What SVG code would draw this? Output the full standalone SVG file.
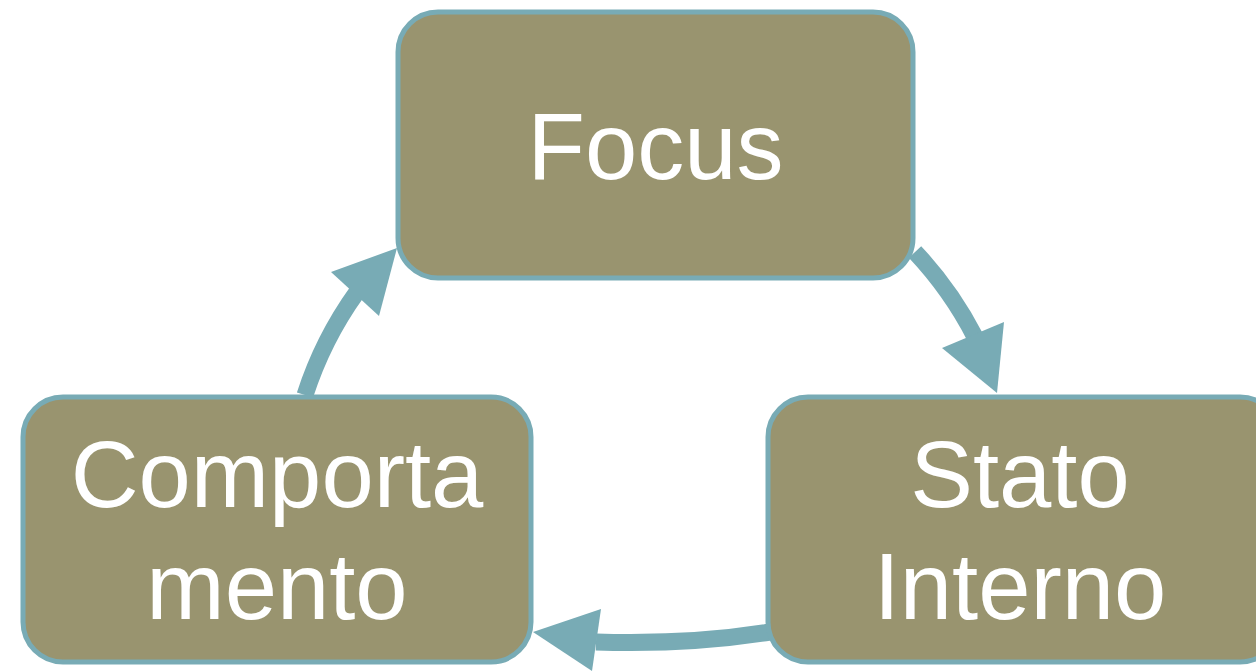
<svg xmlns="http://www.w3.org/2000/svg" width="1256" height="671" viewBox="0 0 1256 671">
<style>
.box{fill:#99946F;stroke:#78ABB5;stroke-width:5}
.lbl{font-family:"Liberation Sans",Arial,sans-serif;font-size:94px;fill:#FFFFFF;text-anchor:middle}
.shaft{fill:none;stroke:#78ABB5;stroke-width:17}
.head{fill:#78ABB5}
</style>
<rect width="1256" height="671" fill="#FFFFFF"/>
<g id="connectors">
<path class="shaft" d="M 915 252 A 372 372 0 0 1 975 337"/>
<polygon class="head" points="1004,322 997,393 942,348"/>
<path class="shaft" d="M 770 632 Q 690 645 596 642"/>
<polygon class="head" points="601,609 533,632 592,671"/>
<path class="shaft" d="M 305 395 A 372 372 0 0 1 357 292"/>
<polygon class="head" points="331,272 397,248 379,316"/>
</g>
<g id="focus">
<rect class="box" x="398" y="12" width="515" height="266" rx="40" ry="40"/>
<text class="lbl" x="655.5" y="179">Focus</text>
</g>
<g id="stato-interno">
<rect class="box" x="768" y="397" width="512" height="265" rx="40" ry="40"/>
<text class="lbl" x="1020" y="507">Stato</text>
<text class="lbl" x="1020" y="619">Interno</text>
</g>
<g id="comportamento">
<rect class="box" x="23" y="397" width="508" height="265" rx="40" ry="40"/>
<text class="lbl" x="277" y="507">Comporta</text>
<text class="lbl" x="277" y="619">mento</text>
</g>
</svg>
